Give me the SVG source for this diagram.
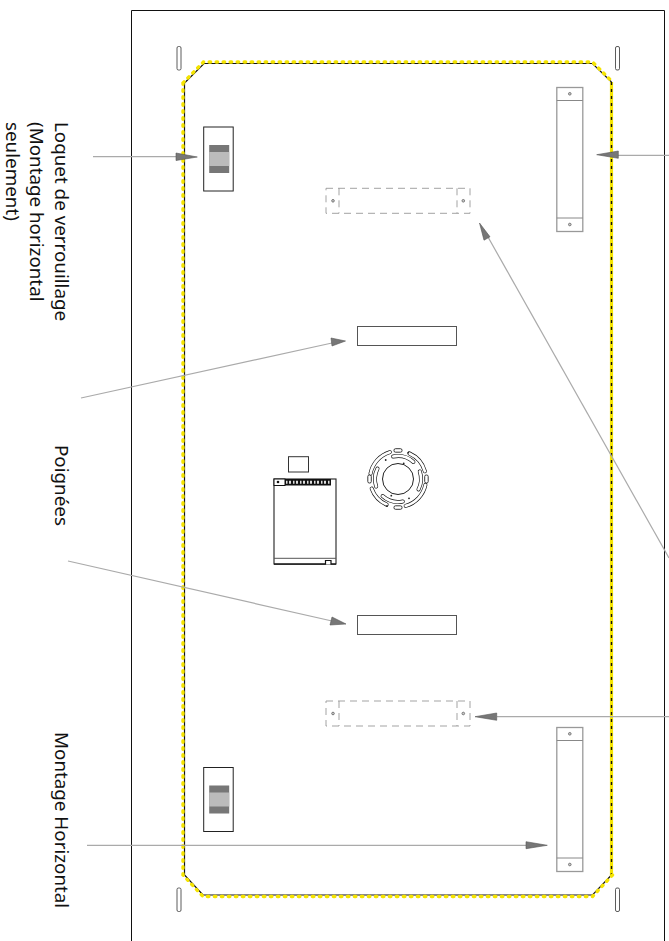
<svg xmlns="http://www.w3.org/2000/svg" width="669" height="941" viewBox="0 0 669 941">
<defs>
<style>
.f{fill:none;stroke:#111;stroke-width:1}
.d{fill:none;stroke:#999;stroke-width:.9;stroke-dasharray:7 5}
.l{stroke:#aaa;stroke-width:1.200;fill:none}
.a{fill:#777;stroke:#555;stroke-width:.6}
.t{font-family:"Noto Sans","Open Sans",sans-serif;font-size:18.800px;fill:#111}
.s{fill:none;stroke:#111;stroke-width:4;stroke-linecap:round}
.w{fill:none;stroke:#fff;stroke-width:2.700;stroke-linecap:round}
</style>
<g id="latch"><rect x="0" y="0" width="29.500" height="64" fill="#fff" stroke="#222" stroke-width="1"/><rect x="5.500" y="18" width="20" height="28" fill="#777"/><rect x="5.500" y="25" width="20" height="14" fill="#bbb"/></g>
<g id="rail"><rect x="0" y="0" width="26" height="144" fill="#fff" stroke="#999" stroke-width="1.300"/><path d="M0 13H26M0 130.500H26" stroke="#888"/><circle cx="13" cy="6.300" r="1.300" fill="#ccc" stroke="#777"/><circle cx="13" cy="137" r="1.300" fill="#ccc" stroke="#777"/></g>
<g id="dash"><rect x="0" y="0" width="144" height="25" class="d"/><path d="M13 0V25M131 0V25" class="d"/><circle cx="7" cy="12.500" r="1.300" fill="#ccc" stroke="#777"/><circle cx="137.300" cy="12.500" r="1.300" fill="#ccc" stroke="#777"/></g>
<g id="slot"><rect x="0" y="0" width="4" height="23.500" rx="1.500" fill="#fff" stroke="#333" stroke-width=".8"/></g>
</defs>
<rect width="669" height="941" fill="#fff"/>
<g id="frame"><path class="f" d="M131.500 941V10.500H664.500V941"/></g>
<g id="gasket" fill="none">
<path d="M611.500 82V875" stroke="#f5e400" stroke-width="3.200"/>
<path d="M184.500 83L204 63.500H592.500L611.500 82M611.500 875L592.500 895H203L184.500 875V83" stroke="#111" stroke-width="1.200"/>
<path d="M611.500 82V875" stroke="#111" stroke-width="1.400" stroke-dasharray="3 4"/>
<path d="M183 83L203.500 62H592.500L612.500 82M612.500 875L592.500 896.500H203L183 875V83" stroke="#f5e400" stroke-width="3.400" stroke-dasharray="1.500 5.500" stroke-linecap="round"/>
</g>
<g id="slots"><use href="#slot" x="177" y="46.500"/><use href="#slot" x="615.500" y="46.500"/><use href="#slot" x="177" y="888"/><use href="#slot" x="615.500" y="888"/></g>
<g id="latch-top"><use href="#latch" x="203.700" y="127"/></g>
<g id="latch-bottom"><use href="#latch" x="203.700" y="767.500"/></g>
<g id="rail-top"><use href="#rail" x="556.800" y="87.500"/></g>
<g id="rail-bottom"><use href="#rail" x="556.800" y="727.500"/></g>
<g id="dash-top"><use href="#dash" x="326" y="188.300"/></g>
<g id="dash-bottom"><use href="#dash" x="326" y="701"/></g>
<g id="handle-top"><rect x="357.500" y="326.500" width="99" height="19" fill="#fff" stroke="#555"/></g>
<g id="handle-bottom"><rect x="357.500" y="615.500" width="99" height="19" fill="#fff" stroke="#555"/></g>
<g id="board">
<rect x="288.500" y="456.700" width="20" height="15.300" fill="#fff" stroke="#333"/>
<rect x="274" y="479" width="62" height="85" fill="#fff" stroke="#222" stroke-width="1.100"/>
<rect x="285" y="479" width="46" height="6.500" fill="#111"/>
<rect x="274" y="479" width="11" height="6.500" fill="#fff" stroke="#111"/>
<circle cx="278" cy="482" r="1.300" fill="#111"/>
<path d="M286 482.200H330" stroke="#ddd" stroke-width="3" stroke-dasharray="1.500 1.500 2 2"/>
<path d="M274 558.300H336" stroke="#555"/>
<path d="M274 564.200H325.500V560.500H331V564.200H336" fill="#fff" stroke="#111" stroke-width="1.200"/>
</g>
<g id="fan">
<circle cx="398" cy="479" r="15.500" fill="none" stroke="#222" stroke-width="1"/>
<path class="s" d="M393.200 456.500A23 23 0 0 1 413.400 461.900M419.800 471.500A23 23 0 0 1 418.500 489.400M402.800 501.500A23 23 0 0 1 382.600 496.100M376.200 486.500A23 23 0 0 1 377.500 468.600"/>
<path class="s" d="M370.500 473.700A28 28 0 0 1 389.800 452.200M409.400 453.400A28 28 0 0 1 424.900 471.300M425.400 484.800A28 28 0 0 1 405.700 505.900M386.600 504.600A28 28 0 0 1 371.700 488.600"/>
<path class="w" d="M393.200 456.500A23 23 0 0 1 413.400 461.900M419.800 471.500A23 23 0 0 1 418.500 489.400M402.800 501.500A23 23 0 0 1 382.600 496.100M376.200 486.500A23 23 0 0 1 377.500 468.600"/>
<path class="w" d="M370.500 473.700A28 28 0 0 1 389.800 452.200M409.400 453.400A28 28 0 0 1 424.900 471.300M425.400 484.800A28 28 0 0 1 405.700 505.900M386.600 504.600A28 28 0 0 1 371.700 488.600"/>
<g fill="#fff" stroke="#222" stroke-width=".9">
<rect x="394" y="448.700" width="8" height="3.500" rx="1.500"/><rect x="394" y="505.800" width="8" height="3.500" rx="1.500"/>
<rect x="424.700" y="475" width="3.500" height="8" rx="1.500"/><rect x="367.800" y="475" width="3.500" height="8" rx="1.500"/>
</g>
<g fill="#222"><circle cx="408.300" cy="452.700" r=".9"/><circle cx="385.700" cy="460" r=".9"/><circle cx="403.700" cy="463.300" r=".9"/><circle cx="409" cy="498.300" r=".9"/><circle cx="391.300" cy="495.700" r=".9"/><circle cx="387" cy="506" r=".9"/></g>
</g>
<g id="connectors">
<path class="l" d="M93 156.700H177"/><path class="a" d="M176 153L197.300 157L176 160.500Z"/>
<path class="l" d="M669 155.300H618"/><path class="a" d="M618.300 151L596.700 154.700L618.300 158.300Z"/>
<path class="l" d="M81 398L332 343"/><path class="a" d="M331 338L345.500 341L332 346Z"/>
<path class="l" d="M68 561L332 621"/><path class="a" d="M332 617L346 624L330 625Z"/>
<path class="l" d="M669 558L488 237"/><path class="a" d="M490 236.800L479.500 223L484 240.200Z"/>
<path class="l" d="M669 716.700H497"/><path class="a" d="M496.700 713L475 716.700L496.700 720.300Z"/>
<path class="l" d="M87 845.300H527"/><path class="a" d="M526 841.700L547.300 845.300L526 848.700Z"/>
</g>
<g id="labels">
<text class="t" transform="translate(55 122) rotate(90)">Loquet de verrouillage</text>
<text class="t" transform="translate(30 122) rotate(90)">(Montage horizontal</text>
<text class="t" transform="translate(5.500 122) rotate(90)">seulement)</text>
<text class="t" transform="translate(55 445) rotate(90)">Poignées</text>
<text class="t" transform="translate(55 732) rotate(90)">Montage Horizontal</text>
</g>
</svg>
